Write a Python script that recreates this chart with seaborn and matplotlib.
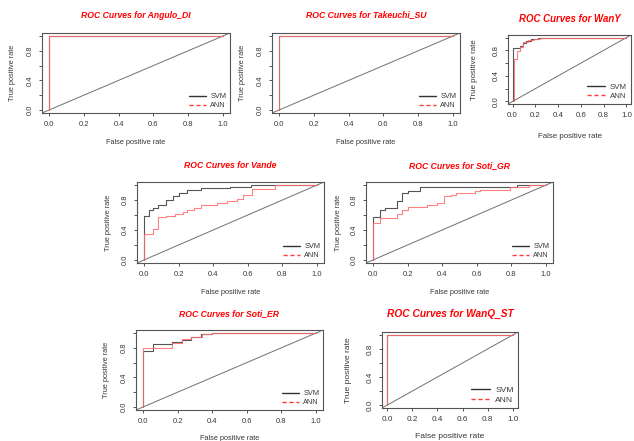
import matplotlib
matplotlib.use("Agg")
import matplotlib.pyplot as plt
import seaborn as sns
import pandas as pd
from matplotlib.lines import Line2D

# ---------------- data (step corners: fpr where tpr jumps, tpr after jump) ----
datasets = ["Angulo_DI", "Takeuchi_SU", "WanY", "Vande", "Soti_GR", "Soti_ER", "WanQ_ST"]
models = ["SVM", "ANN"]

angulo_svm_fpr = [0.0, 0.0, 1.0]
angulo_svm_tpr = [0.0, 1.0, 1.0]
angulo_ann_fpr = [0.0, 0.0, 1.0]
angulo_ann_tpr = [0.0, 1.0, 1.0]

takeuchi_svm_fpr = [0.0, 0.0, 1.0]
takeuchi_svm_tpr = [0.0, 1.0, 1.0]
takeuchi_ann_fpr = [0.0, 0.0, 1.0]
takeuchi_ann_tpr = [0.0, 1.0, 1.0]

wany_svm_fpr = [0.0, 0.0, 0.065, 0.09, 0.12, 0.16, 0.22, 0.40, 1.0]
wany_svm_tpr = [0.0, 0.84, 0.87, 0.92, 0.95, 0.97, 0.99, 1.0, 1.0]
wany_ann_fpr = [0.0, 0.015, 0.035, 0.065, 0.09, 0.135, 0.19, 0.24, 1.0]
wany_ann_tpr = [0.0, 0.67, 0.79, 0.85, 0.93, 0.96, 0.98, 1.0, 1.0]

vande_svm_fpr = [0.0, 0.0, 0.028, 0.053, 0.08, 0.125, 0.17, 0.20, 0.25, 0.33, 0.50, 0.62, 1.0]
vande_svm_tpr = [0.0, 0.59, 0.67, 0.70, 0.73, 0.80, 0.85, 0.89, 0.93, 0.96, 0.98, 1.0, 1.0]
vande_ann_fpr = [0.0, 0.0, 0.05, 0.08, 0.13, 0.18, 0.225, 0.25, 0.29, 0.33, 0.42, 0.48,
                 0.535, 0.575, 0.625, 0.755, 1.0]
vande_ann_tpr = [0.0, 0.35, 0.41, 0.57, 0.59, 0.62, 0.64, 0.67, 0.69, 0.73, 0.76, 0.79,
                 0.82, 0.87, 0.95, 1.0, 1.0]

sotigr_svm_fpr = [0.0, 0.0, 0.04, 0.07, 0.14, 0.17, 0.20, 0.27, 0.83, 1.0]
sotigr_svm_tpr = [0.0, 0.58, 0.67, 0.69, 0.79, 0.90, 0.92, 0.98, 1.0, 1.0]
sotigr_ann_fpr = [0.0, 0.0, 0.04, 0.14, 0.17, 0.20, 0.31, 0.37, 0.41, 0.45, 0.48, 0.59,
                  0.62, 0.79, 0.90, 1.0]
sotigr_ann_tpr = [0.0, 0.49, 0.56, 0.62, 0.67, 0.71, 0.73, 0.76, 0.85, 0.87, 0.89, 0.92,
                  0.94, 0.97, 1.0, 1.0]

sotier_svm_fpr = [0.0, 0.0, 0.059, 0.17, 0.226, 0.28, 0.337, 0.40, 1.0]
sotier_svm_tpr = [0.0, 0.76, 0.85, 0.88, 0.90, 0.95, 0.99, 1.0, 1.0]
sotier_ann_fpr = [0.0, 0.0, 0.17, 0.226, 0.28, 0.34, 0.40, 1.0]
sotier_ann_tpr = [0.0, 0.80, 0.87, 0.92, 0.95, 0.99, 1.0, 1.0]

wanq_svm_fpr = [0.0, 0.0, 1.0]
wanq_svm_tpr = [0.0, 1.0, 1.0]
wanq_ann_fpr = [0.0, 0.0, 1.0]
wanq_ann_tpr = [0.0, 1.0, 1.0]

curves = {
    "Angulo_DI": ((angulo_svm_fpr, angulo_svm_tpr), (angulo_ann_fpr, angulo_ann_tpr)),
    "Takeuchi_SU": ((takeuchi_svm_fpr, takeuchi_svm_tpr), (takeuchi_ann_fpr, takeuchi_ann_tpr)),
    "WanY": ((wany_svm_fpr, wany_svm_tpr), (wany_ann_fpr, wany_ann_tpr)),
    "Vande": ((vande_svm_fpr, vande_svm_tpr), (vande_ann_fpr, vande_ann_tpr)),
    "Soti_GR": ((sotigr_svm_fpr, sotigr_svm_tpr), (sotigr_ann_fpr, sotigr_ann_tpr)),
    "Soti_ER": ((sotier_svm_fpr, sotier_svm_tpr), (sotier_ann_fpr, sotier_ann_tpr)),
    "WanQ_ST": ((wanq_svm_fpr, wanq_svm_tpr), (wanq_ann_fpr, wanq_ann_tpr)),
}

tick_values = [0.0, 0.2, 0.4, 0.6, 0.8, 1.0]
x_tick_labels = ["0.0", "0.2", "0.4", "0.6", "0.8", "1.0"]
y_tick_labels = ["0.0", "", "0.4", "", "0.8", ""]

# ---------------- layout (pixel boxes: left, top, right, bottom) ----------------
W, H = 634, 441
layout = {
    "Angulo_DI":   dict(box=(42, 33, 230, 113), ty=15, xly=142, ylx=13, tfs=6.2, lfs=5.3, kfs=5.5),
    "Takeuchi_SU": dict(box=(272, 33, 460, 113), ty=15, xly=142, ylx=243, tfs=6.2, lfs=5.3, kfs=5.5),
    "WanY":        dict(box=(508, 35, 631, 104), ty=19, xly=136, ylx=475, tfs=6.9, lfs=5.7, kfs=5.7),
    "Vande":       dict(box=(137, 182, 324, 263), ty=166, xly=292, ylx=108, tfs=6.2, lfs=5.3, kfs=5.5),
    "Soti_GR":     dict(box=(366, 182, 553, 263), ty=166, xly=292, ylx=338, tfs=6.2, lfs=5.3, kfs=5.5),
    "Soti_ER":     dict(box=(136, 330, 323, 410), ty=314, xly=438, ylx=107, tfs=6.2, lfs=5.3, kfs=5.5),
    "WanQ_ST":     dict(box=(382, 332, 518, 408), ty=314, xly=437, ylx=348, tfs=7.3, lfs=6.1, kfs=5.9),
}

sns.set_theme(style="ticks")
plt.rcParams["font.family"] = ["Liberation Sans", "DejaVu Sans"]

SVM_COLOR = "#555555"
ANN_COLOR = "#ff6b6b"
TEXT_COLOR = "#383838"

fig = plt.figure(figsize=(W / 100, H / 100), dpi=100)
fig.patch.set_facecolor("white")

for name in datasets:
    spec = layout[name]
    L, T, R, B = spec["box"]
    bw, bh = R - L, B - T
    ax = fig.add_axes([L / W, 1 - B / H, bw / W, bh / H])
    ax.set_facecolor("white")

    (sf, st), (af, at) = curves[name]
    df = pd.concat([
        pd.DataFrame({"fpr": sf, "tpr": st, "model": "SVM"}),
        pd.DataFrame({"fpr": af, "tpr": at, "model": "ANN"}),
    ], ignore_index=True)

    ax.axline((0, 0), (1, 1), color="#707070", lw=0.7, zorder=1)
    sns.lineplot(data=df[df.model == "SVM"], x="fpr", y="tpr", ax=ax,
                 color=SVM_COLOR, lw=0.8, estimator=None, sort=False,
                 drawstyle="steps-post", legend=False, zorder=2)
    sns.lineplot(data=df[df.model == "ANN"], x="fpr", y="tpr", ax=ax,
                 color=ANN_COLOR, lw=0.8, alpha=0.85, estimator=None, sort=False,
                 drawstyle="steps-post", legend=False, zorder=3)

    ax.set_xlim(-0.04, 1.04)
    ax.set_ylim(-0.04, 1.04)
    ax.set_xticks(tick_values)
    ax.set_xticklabels(x_tick_labels)
    ax.set_yticks(tick_values)
    ax.set_yticklabels(y_tick_labels, rotation=90, va="center")
    ax.tick_params(axis="both", length=2.5, width=0.6, pad=3.2,
                   labelsize=spec["kfs"], colors=TEXT_COLOR, direction="out")
    for sp in ax.spines.values():
        sp.set_visible(True)
        sp.set_color("#555555")
        sp.set_linewidth(0.8)

    ax.set_title(f"ROC Curves for {name}", color="red", fontweight="bold",
                 fontstyle="italic", fontsize=spec["tfs"], pad=0,
                 y=1 + (T - spec["ty"]) / bh, va="center")
    ax.set_xlabel("False positive rate", fontsize=spec["lfs"], color=TEXT_COLOR,
                  va="center", ha="center")
    ax.xaxis.set_label_coords(0.5, -(spec["xly"] - B) / bh)
    ax.set_ylabel("True positive rate", fontsize=spec["lfs"], color=TEXT_COLOR,
                  va="center", ha="center")
    ax.yaxis.set_label_coords(-(L - spec["ylx"]) / bw, 0.5)

    handles = [Line2D([], [], color="#333333", lw=1.0),
               Line2D([], [], color="#ff3b3b", lw=1.0, ls=(0, (3, 2)))]
    ax.legend(handles, models, loc="lower right", frameon=False,
              fontsize=spec["lfs"], handlelength=2.3, handletextpad=0.6,
              labelspacing=0.25, borderaxespad=0.2, borderpad=0.3,
              labelcolor=TEXT_COLOR)

fig.savefig("out.png", dpi=100, facecolor="white")
